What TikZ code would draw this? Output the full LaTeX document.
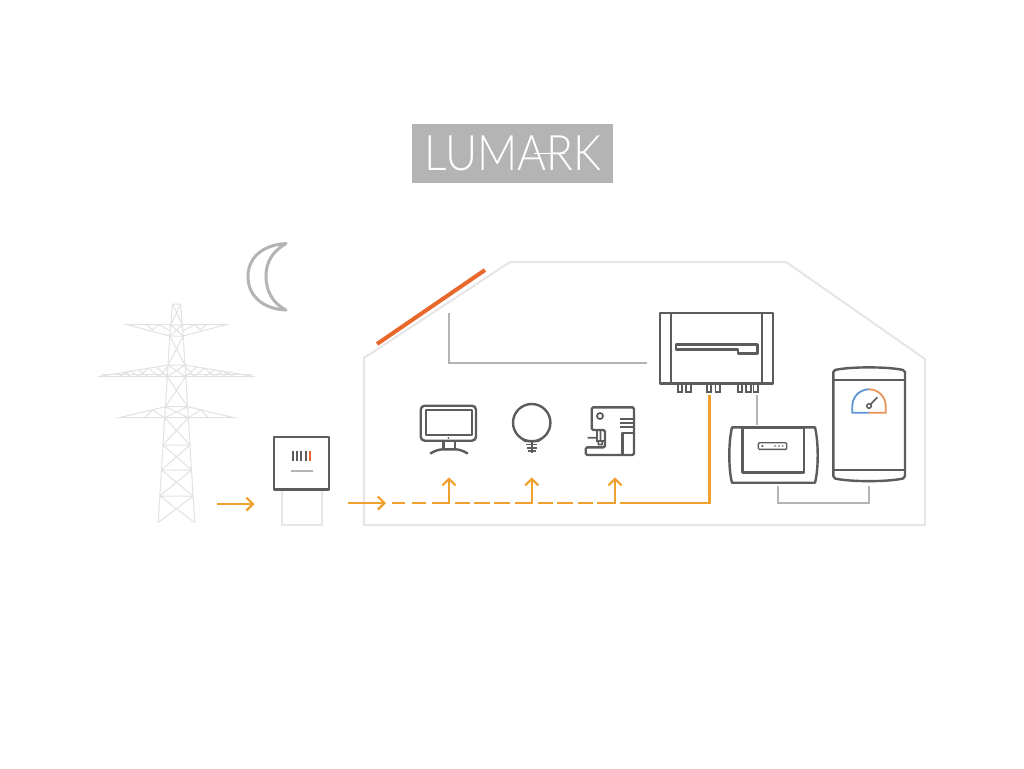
\documentclass[tikz,border=0pt]{standalone}
\usepackage{fontspec}
\usetikzlibrary{arrows.meta}
\newfontfamily\logofont{Lato Light}
\definecolor{dk}{HTML}{5C5C5C}
\definecolor{md}{HTML}{B4B4B4}
\definecolor{lt}{HTML}{E6E6E6}
\definecolor{py}{HTML}{E2E2E2}
\definecolor{og}{HTML}{EFA02E}
\definecolor{rd}{HTML}{E8682C}
\definecolor{bl}{HTML}{5F93D3}
\definecolor{og2}{HTML}{EB9256}
\tikzset{
  every node/.style={outer sep=0pt},
  dev/.style={draw=dk,line width=2.4pt,line join=round},
  boxdev/.style={dev,inner sep=0pt,anchor=north west},
  ghost/.style={draw=lt,line width=2pt},
  wire/.style={draw=md,line width=2pt},
  power/.style={draw=og,line width=2.4pt},
  arrowed/.style={power,-{Straight Barb[length=6.5pt,width=13pt,line width=2.2pt]}},
  lattice/.style={draw=py,line width=1pt},
  port/.style={draw=dk,line width=1.8pt,inner sep=0pt,minimum width=4.6pt,minimum height=8.5pt,anchor=north},
}
\begin{document}
\begin{tikzpicture}[x=1pt,y=-1pt]
\path[use as bounding box,fill=white] (0,0) rectangle (1024,768);
% logo
\node[fill=md,minimum width=201.6pt,minimum height=59pt,inner sep=0pt] (logobg) at (512.5,153.8) {};
\node[text=white,inner sep=0pt] (logo) at (513,153) {\scalebox{0.885}[0.98]{\fontsize{50}{50}\logofont LUMARK}};
\coordinate (barA) at (534,153.5); \coordinate (barB) at (565,153.5);
\draw[white,line width=1.2pt] (barA) -- (barB);
% moon
\draw[draw=md,line width=3pt,line join=round] (286,243.5) .. controls (262,245) and (248,258) .. (248,276.5) .. controls (248,296) and (263,309) .. (286,310) .. controls (272,303) and (266,290) .. (266,276.5) .. controls (266,262) and (272,252) .. cycle;
% pylon tower
\foreach \ya/\ha/\yb/\hb in {304/4/325/5.8,325/5.8/336/6.7,336/6.7/365/8.5,365/8.5/376.7/9.2,376.7/9.2/406.7/11.1,406.7/11.1/417.7/11.8,417.7/11.8/445/13.5,445/13.5/470/15,470/15/496/16.6,496/16.6/522.7/18.3}{
  \draw[lattice] ({176.5-\ha},\ya) -- ({176.5-\hb},\yb) ({176.5+\ha},\ya) -- ({176.5+\hb},\yb)
    ({176.5-\ha},\ya) -- ({176.5+\hb},\yb) ({176.5+\ha},\ya) -- ({176.5-\hb},\yb)
    ({176.5-\ha},\ya) -- ({176.5+\ha},\ya);
}
% pylon arms
\foreach \s in {-1,1}{
  \draw[lattice] ({176.5+\s*5.8},324.7) -- ({176.5+\s*49.5},324.7) -- ({176.5+\s*6.7},336);
  \draw[lattice] ({176.5+\s*6},331) -- ({176.5+\s*18},324.7) -- ({176.5+\s*24},330) -- ({176.5+\s*30},324.7);
  \draw[lattice] ({176.5+\s*9.2},376.7) -- ({176.5+\s*78.5},376.7) -- ({176.5+\s*8.5},365);
  \draw[lattice] ({176.5+\s*9},374) -- ({176.5+\s*76},374);
  \draw[lattice] ({176.5+\s*9},367) -- ({176.5+\s*18},376.7) -- ({176.5+\s*28},368) -- ({176.5+\s*38},376.7) -- ({176.5+\s*46},371) -- ({176.5+\s*58},376.7);
  \draw[lattice] ({176.5+\s*9},376.7) -- ({176.5+\s*20},367) ({176.5+\s*28},376.7) -- ({176.5+\s*38},370) ({176.5+\s*46},376.7) -- ({176.5+\s*52},372);
  \draw[lattice] ({176.5+\s*11.8},417.7) -- ({176.5+\s*57.5},417.7) -- ({176.5+\s*11.1},406.7);
  \draw[lattice] ({176.5+\s*12},417.7) -- ({176.5+\s*24},410) -- ({176.5+\s*32},417.7);
}
% meter
\node[ghost,inner sep=0pt,minimum width=40pt,minimum height=35pt,anchor=north west] (meterbase) at (281.7,490) {};
\node[boxdev,fill=white,minimum width=55pt,minimum height=52.6pt] (meter) at (274,436.7) {};
\foreach \x in {293.3,297.3,301.3,305.7}{\draw[dk,line width=2.2pt] (\x,450.7) -- (\x,461.3);}
\draw[rd,line width=2.2pt] (310,450.7) -- (310,461.3);
\draw[md,line width=1.6pt] (291,470.7) -- (313,470.7);
% house
\draw[ghost,line join=round] (364,525) -- (364,358) -- (510,262) -- (786,262) -- (925,359) -- (925,525) -- cycle;
\draw[rd,line width=4pt] (377,344) -- (485,270);
% inverter
\node[boxdev,minimum width=112.7pt,minimum height=70.6pt] (inverter) at (660,312.7) {};
\draw[dev] (671,312.7) -- (671,383.3) (761.7,312.7) -- (761.7,383.3);
\draw[dev] (676,344.3) -- (757.3,344.3) -- (757.3,353.3) -- (737.7,353.3) -- (737.7,349.3) -- (676,349.3) -- cycle;
\foreach \i/\x in {a/680,b/688.5,c/709,d/717.7,e/740,f/748.3,g/755.7}{\node[port] (p\i) at (\x,383.3) {};}
% roof wire
\coordinate (panelwire) at (449,313); \coordinate (invleft) at (647,363);
\draw[wire] (panelwire) |- (invleft);
% controller
\draw[dev] (732,427.3) -- (815,427.3) .. controls (817,436) and (817.7,446) .. (817.7,455) .. controls (817.7,465) and (817,475) .. (815,482.7) -- (732,482.7) .. controls (730,475) and (729.3,465) .. (729.3,455) .. controls (729.3,446) and (730,436) .. cycle;
\node[boxdev,minimum width=61.7pt,minimum height=45pt] (controller) at (742.3,427.3) {};
\node[draw=dk,line width=1.4pt,rounded corners=1pt,inner sep=0pt,minimum width=28.4pt,minimum height=6.6pt,anchor=north west] (ctrldisp) at (758.3,442.7) {};
\foreach \x/\r in {762.3/1.2,775/0.9,779/0.9,782.7/0.9}{\fill[dk] (\x,446) circle[radius=\r];}
% tank
\draw[dev] (835,370) .. controls (850,366.5) and (888,366.5) .. (903,370) -- (905,372) -- (905,476) -- (903,478.5) .. controls (888,482) and (850,482) .. (835,478.5) -- (833.3,476) -- (833.3,372) -- cycle;
\coordinate (tanktl) at (833.3,380); \coordinate (tanktr) at (905,380);
\coordinate (tankbl) at (833.3,470); \coordinate (tankbr) at (905,470);
\draw[dev] (tanktl) -- (tanktr) (tankbl) -- (tankbr);
\draw[bl,line width=1.8pt] (869,412.7) -- (852.3,412.7) -- (852.3,406) arc[start angle=180,end angle=270,radius=16.7];
\draw[og2,line width=1.8pt] (869,389.3) arc[start angle=270,end angle=360,radius=16.7] -- (885.7,412.7) -- (869,412.7);
\node[circle,draw=dk,line width=1.5pt,inner sep=0pt,minimum size=4.5pt] (needle) at (869,406) {};
\coordinate (needletip) at (877.3,397.3);
\draw[dk,line width=1.6pt] (needle) -- (needletip);
% control wires
\coordinate (invport) at (756.7,395); \coordinate (ctrltop) at (756.7,425);
\draw[wire,line width=1.8pt] (invport) -- (ctrltop);
\coordinate (ctrlbot) at (777.7,486); \coordinate (tankbot) at (869,486); \coordinate (wirelow) at (869,502.7);
\draw[wire,line width=1.8pt] (ctrlbot) |- (wirelow) -- (tankbot);
% TV
\node[dev,rounded corners=4pt,inner sep=0pt,minimum width=55.3pt,minimum height=35pt,anchor=north west] (tv) at (420.7,405.7) {};
\node[dev,line width=1.8pt,inner sep=0pt,minimum width=46.6pt,minimum height=25pt,anchor=north west] (tvscreen) at (425.7,410) {};
\fill[dk] (448.3,438) circle[radius=1];
\draw[dev] (443.3,441) -- (443.3,449.3) (455,441) -- (455,449.3);
\draw[dev,line cap=round] (430.7,453.3) .. controls (435,450.5) and (440,449.3) .. (443.3,449.3) -- (455,449.3) .. controls (458,449.3) and (463,450.5) .. (467.3,453.3);
% bulb
\node[circle,dev,inner sep=0pt,minimum size=37.4pt] (bulb) at (531.7,422.7) {};
\draw[dev] (bulb.240) -- (525.5,441) -- (538,441) -- (bulb.300);
\draw[dk,line width=1.7pt] (526,444.5) -- (537.4,444.5) (526.5,447.8) -- (537,447.8) (528,451) -- (535.5,451) (531.7,441) -- (531.7,453);
% coffee machine
\draw[dev,rounded corners=1.5pt] (605,430) -- (591.7,430) -- (591.7,407.3) -- (634,407.3) -- (634,455) -- (585.7,455) -- (585.7,447.3) -- (605,447.3) -- cycle;
\draw[dev] (622.3,455) -- (622.3,433) -- (634,433);
\draw[dk,line width=2pt] (620,419.3) -- (634,419.3) (620,423.3) -- (634,423.3) (620,427.3) -- (634,427.3);
\node[circle,draw=dk,line width=1.8pt,inner sep=0pt,minimum size=6pt] (cbtn) at (600,416) {};
\draw[dk,line width=1.6pt] (597,430) -- (597,441) -- (604,441) (600.5,430) -- (600.5,441) (587.7,437.7) -- (597,437.7) (598,441) -- (598.5,444.5) -- (602,444.5) -- (602.5,441);
% power arrows
\coordinate (a1) at (216.7,504); \coordinate (a2) at (254.5,504);
\draw[arrowed] (a1) -- (a2);
\coordinate (b1) at (348,503); \coordinate (b2) at (386,503);
\draw[arrowed] (b1) -- (b2);
\draw[power] (392,502.7) -- (405,502.7) (412,502.7) -- (426,502.7) (432,502.7) -- (449,502.7) (455,502.7) -- (470,502.7) (474,502.7) -- (490,502.7) (494,502.7) -- (510,502.7) (515,502.7) -- (533,502.7) (538,502.7) -- (553,502.7) (557,502.7) -- (573,502.7) (578,502.7) -- (593,502.7) (597,502.7) -- (615,502.7);
\coordinate (invout) at (709.3,395); \coordinate (busend) at (620,502.7);
\draw[power,line join=miter] (invout) |- (busend);
\foreach \n/\x in {tv/449,bulb/531.7,coffee/615}{
  \coordinate (\n low) at (\x,503.5); \coordinate (\n up) at (\x,477.3);
  \draw[arrowed] (\n low) -- (\n up);
}
\end{tikzpicture}
\end{document}
